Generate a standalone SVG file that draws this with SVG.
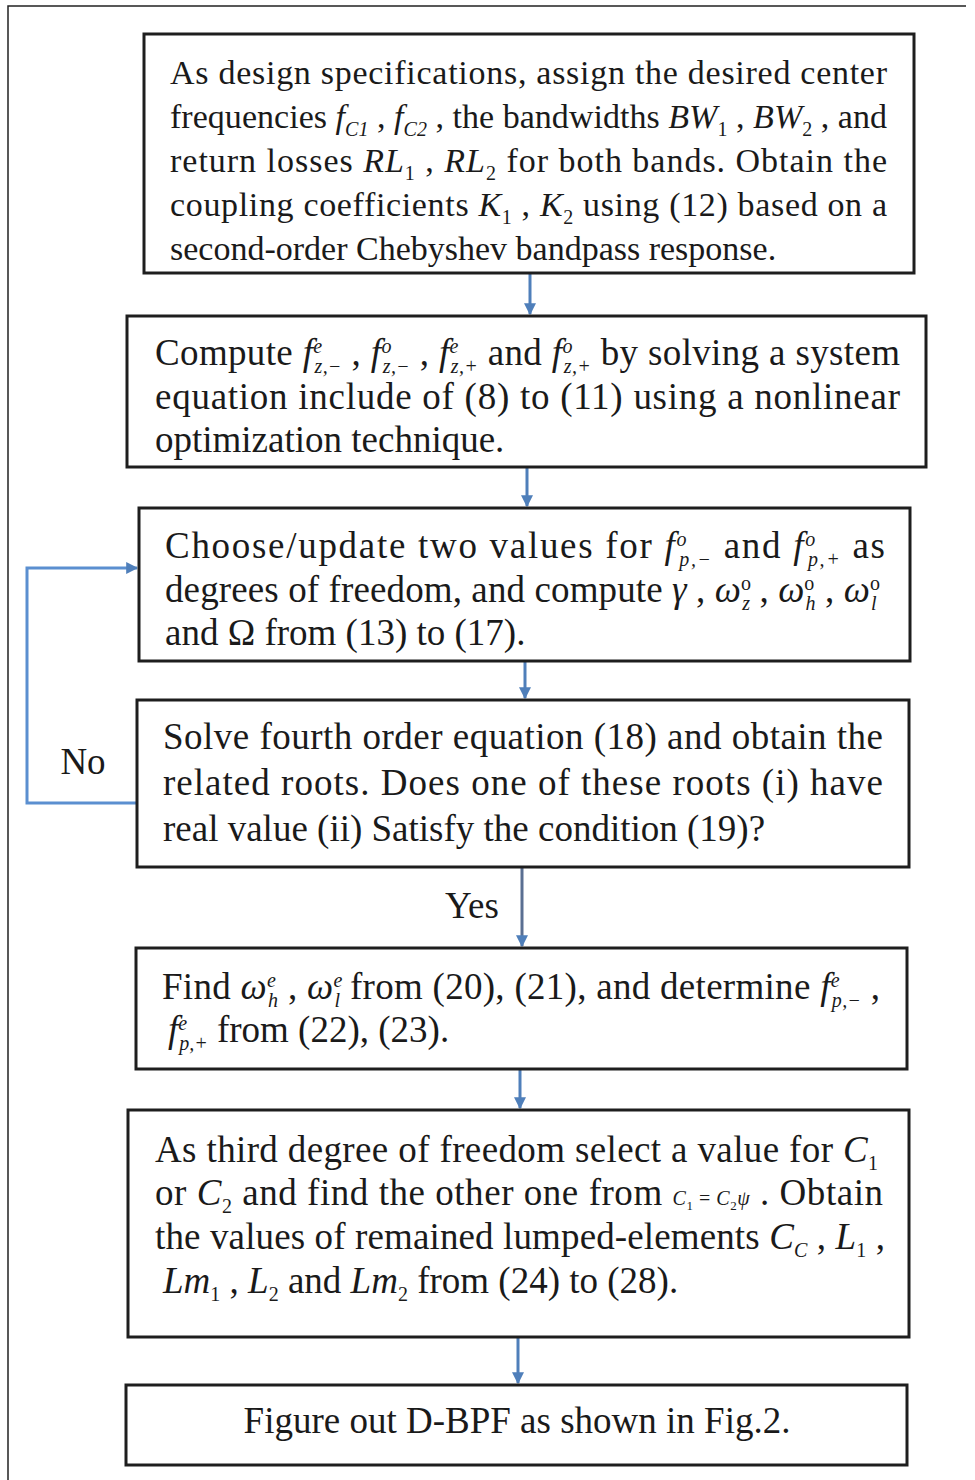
<svg xmlns="http://www.w3.org/2000/svg" width="975" height="1480" viewBox="0 0 975 1480">
<defs>
<style>
.box{fill:#fff;stroke:#1e1e1e;stroke-width:3}
.t{font-family:"Liberation Serif","Times New Roman",serif;font-size:37px;fill:#1a1a1a}
.t1{font-size:34px}
.m{font-style:italic}
.s{font-size:20px}
.c{fill:none;stroke:#4f7fba;stroke-width:3}
.frame{fill:none;stroke:#222;stroke-width:1.5}
</style>
<marker id="ah" viewBox="0 0 10 10" refX="9" refY="5" markerWidth="4" markerHeight="4" orient="auto">
<path d="M0,0 L10,5 L0,10 z" fill="#4f7fba"/>
</marker>
</defs>
<rect width="975" height="1480" fill="#fff"/>
<path class="frame" d="M8,1480 V6 H966"/>

<g id="connectors">
<line class="c" x1="530" y1="274" x2="530" y2="314" marker-end="url(#ah)"/>
<line class="c" x1="527" y1="468" x2="527" y2="506" marker-end="url(#ah)"/>
<line class="c" x1="525" y1="662" x2="525" y2="698" marker-end="url(#ah)"/>
<line class="c" x1="522" y1="868" x2="522" y2="946" marker-end="url(#ah)" style="stroke:#5a6f92"/>
<line class="c" x1="520" y1="1070" x2="520" y2="1108" marker-end="url(#ah)"/>
<line class="c" x1="518" y1="1338" x2="518" y2="1383" marker-end="url(#ah)"/>
<path class="c" d="M137,803 H27 V568 H137" marker-end="url(#ah)" style="stroke:#5b8fd0"/>
<text class="t" x="472" y="918" text-anchor="middle">Yes</text>
<text class="t" x="83" y="774" text-anchor="middle">No</text>
</g>

<g id="n1">
<rect class="box" x="144" y="34" width="770" height="239"/>
<text class="t t1" x="170" y="84" textLength="717" lengthAdjust="spacing">As design specifications, assign the desired center</text>
<text class="t t1" x="170" y="128" textLength="717" lengthAdjust="spacing">frequencies <tspan class="m">f</tspan><tspan class="m s" baseline-shift="-8">C1</tspan> , <tspan class="m">f</tspan><tspan class="m s" baseline-shift="-8">C2</tspan> , the bandwidths <tspan class="m">BW</tspan><tspan class="s" baseline-shift="-8">1</tspan> ,  <tspan class="m">BW</tspan><tspan class="s" baseline-shift="-8">2</tspan> , and</text>
<text class="t t1" x="170" y="172" textLength="717" lengthAdjust="spacing">return losses <tspan class="m">RL</tspan><tspan class="s" baseline-shift="-8">1</tspan> ,  <tspan class="m">RL</tspan><tspan class="s" baseline-shift="-8">2</tspan>  for both bands. Obtain the</text>
<text class="t t1" x="170" y="216" textLength="717" lengthAdjust="spacing">coupling coefficients <tspan class="m">K</tspan><tspan class="s" baseline-shift="-8">1</tspan> ,  <tspan class="m">K</tspan><tspan class="s" baseline-shift="-8">2</tspan>  using (12) based on a</text>
<text class="t t1" x="170" y="260">second-order Chebyshev bandpass response.</text>
</g>

<g id="n2">
<rect class="box" x="127" y="316" width="799" height="151"/>
<text class="t" x="155" y="365" textLength="745" lengthAdjust="spacing">Compute <tspan class="m">f</tspan><tspan class="m s" baseline-shift="12">e</tspan><tspan class="m s" dx="-8" baseline-shift="-8">z,−</tspan> , <tspan class="m">f</tspan><tspan class="m s" baseline-shift="12">o</tspan><tspan class="m s" dx="-9" baseline-shift="-8">z,−</tspan> , <tspan class="m">f</tspan><tspan class="m s" baseline-shift="12">e</tspan><tspan class="m s" dx="-8" baseline-shift="-8">z,+</tspan> and  <tspan class="m">f</tspan><tspan class="m s" baseline-shift="12">o</tspan><tspan class="m s" dx="-9" baseline-shift="-8">z,+</tspan> by solving a system</text>
<text class="t" x="155" y="409" textLength="745" lengthAdjust="spacing">equation include of (8) to (11) using a nonlinear</text>
<text class="t" x="155" y="452">optimization technique.</text>
</g>

<g id="n3">
<rect class="box" x="139" y="508" width="771" height="153"/>
<text class="t" x="165" y="558" textLength="720" lengthAdjust="spacing">Choose/update two values for  <tspan class="m">f</tspan><tspan class="m s" baseline-shift="12">o</tspan><tspan class="m s" dx="-9" baseline-shift="-8">p,−</tspan>  and <tspan class="m">f</tspan><tspan class="m s" baseline-shift="12">o</tspan><tspan class="m s" dx="-9" baseline-shift="-8">p,+</tspan>  as</text>
<text class="t" x="165" y="602" textLength="715" lengthAdjust="spacing">degrees of freedom, and compute <tspan class="m">γ</tspan> ,  <tspan class="m">ω</tspan><tspan class="s" baseline-shift="12">o</tspan><tspan class="m s" dx="-9" baseline-shift="-8">z</tspan> , <tspan class="m">ω</tspan><tspan class="s" baseline-shift="12">o</tspan><tspan class="m s" dx="-9" baseline-shift="-8">h</tspan> , <tspan class="m">ω</tspan><tspan class="s" baseline-shift="12">o</tspan><tspan class="m s" dx="-9" baseline-shift="-8">l</tspan></text>
<text class="t" x="165" y="645">and  Ω  from (13) to (17).</text>
</g>

<g id="n4">
<rect class="box" x="137" y="700" width="772" height="167"/>
<text class="t" x="163" y="749" textLength="720" lengthAdjust="spacing">Solve fourth order equation (18) and obtain the</text>
<text class="t" x="163" y="795" textLength="720" lengthAdjust="spacing">related roots. Does one of these roots (i) have</text>
<text class="t" x="163" y="841">real value (ii) Satisfy the condition (19)?</text>
</g>

<g id="n5">
<rect class="box" x="136" y="948" width="771" height="121"/>
<text class="t" x="162" y="999" textLength="718" lengthAdjust="spacing">Find <tspan class="m">ω</tspan><tspan class="m s" baseline-shift="12">e</tspan><tspan class="m s" dx="-8" baseline-shift="-8">h</tspan> ,  <tspan class="m">ω</tspan><tspan class="m s" baseline-shift="12">e</tspan><tspan class="m s" dx="-8" baseline-shift="-8">l</tspan> from (20), (21), and determine <tspan class="m">f</tspan><tspan class="m s" baseline-shift="12">e</tspan><tspan class="m s" dx="-8" baseline-shift="-8">p,−</tspan> ,</text>
<text class="t" x="168" y="1042"><tspan class="m">f</tspan><tspan class="m s" baseline-shift="12">e</tspan><tspan class="m s" dx="-8" baseline-shift="-8">p,+</tspan> from (22), (23).</text>
</g>

<g id="n6">
<rect class="box" x="128" y="1110" width="781" height="227"/>
<text class="t" x="155" y="1162" textLength="723" lengthAdjust="spacing">As third degree of freedom select a value for  <tspan class="m">C</tspan><tspan class="s" baseline-shift="-8">1</tspan></text>
<text class="t" x="155" y="1205" textLength="728" lengthAdjust="spacing">or  <tspan class="m">C</tspan><tspan class="s" baseline-shift="-8">2</tspan> and find the other one from <tspan class="m s">C</tspan><tspan class="s" style="font-size:13px" baseline-shift="-5">1</tspan><tspan class="s"> = </tspan><tspan class="m s">C</tspan><tspan class="s" style="font-size:13px" baseline-shift="-5">2</tspan><tspan class="m s">ψ</tspan> . Obtain</text>
<text class="t" x="155" y="1249" textLength="730" lengthAdjust="spacing">the values of remained lumped-elements <tspan class="m">C</tspan><tspan class="m s" baseline-shift="-8">C</tspan> , <tspan class="m">L</tspan><tspan class="s" baseline-shift="-8">1</tspan> ,</text>
<text class="t" x="163" y="1293"><tspan class="m">Lm</tspan><tspan class="s" baseline-shift="-8">1</tspan> , <tspan class="m">L</tspan><tspan class="s" baseline-shift="-8">2</tspan> and <tspan class="m">Lm</tspan><tspan class="s" baseline-shift="-8">2</tspan> from (24) to (28).</text>
</g>

<g id="n7">
<rect class="box" x="126" y="1385" width="781" height="80"/>
<text class="t" x="517" y="1433" text-anchor="middle">Figure out D-BPF as shown in Fig.2.</text>
</g>
</svg>
